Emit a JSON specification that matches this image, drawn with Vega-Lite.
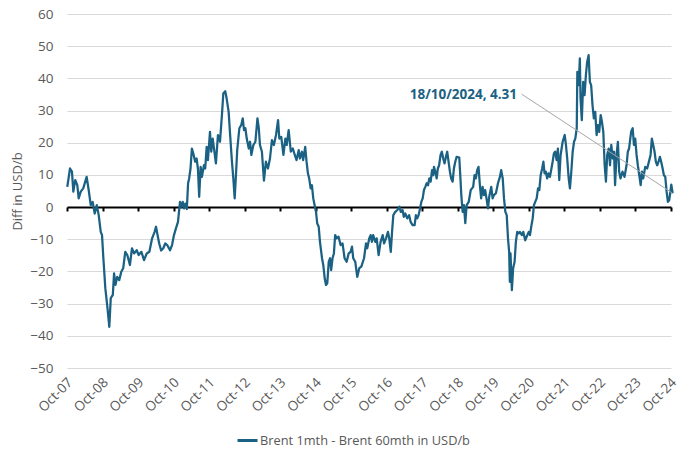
{
  "$schema": "https://vega.github.io/schema/vega-lite/v6.json",
  "width": 604,
  "height": 354,
  "autosize": {"type": "none"},
  "padding": {"left": 67, "top": 14, "right": 29, "bottom": 89},
  "background": "white",
  "config": {
    "view": {"stroke": null},
    "font": "Open Sans",
    "axis": {"labelColor": "#595959", "titleColor": "#595959", "labelFontSize": 13.5, "titleFontSize": 13, "titleFontWeight": "normal"},
    "legend": {"labelColor": "#595959", "labelFontSize": 12.8, "labelLimit": 0}
  },
  "encoding": {
    "x": {
      "field": "date", "type": "temporal",
      "scale": {"type": "utc", "domain": [{"year": 2007, "month": 10, "date": 1, "utc": true}, {"year": 2024, "month": 10, "date": 1, "utc": true}]},
      "axis": {
        "title": null, "format": "%b-%y", "labelAngle": -45, "labelAlign": "right", "labelBaseline": "middle",
        "values": [
          {"year": 2007, "month": 10, "date": 1, "utc": true}, {"year": 2008, "month": 10, "date": 1, "utc": true},
          {"year": 2009, "month": 10, "date": 1, "utc": true}, {"year": 2010, "month": 10, "date": 1, "utc": true},
          {"year": 2011, "month": 10, "date": 1, "utc": true}, {"year": 2012, "month": 10, "date": 1, "utc": true},
          {"year": 2013, "month": 10, "date": 1, "utc": true}, {"year": 2014, "month": 10, "date": 1, "utc": true},
          {"year": 2015, "month": 10, "date": 1, "utc": true}, {"year": 2016, "month": 10, "date": 1, "utc": true},
          {"year": 2017, "month": 10, "date": 1, "utc": true}, {"year": 2018, "month": 10, "date": 1, "utc": true},
          {"year": 2019, "month": 10, "date": 1, "utc": true}, {"year": 2020, "month": 10, "date": 1, "utc": true},
          {"year": 2021, "month": 10, "date": 1, "utc": true}, {"year": 2022, "month": 10, "date": 1, "utc": true},
          {"year": 2023, "month": 10, "date": 1, "utc": true}, {"year": 2024, "month": 10, "date": 1, "utc": true}
        ],
        "offset": -161, "domainColor": "black", "domainWidth": 2, "tickColor": "black", "tickWidth": 2, "tickSize": 4,
        "labelPadding": 169, "labelOffset": 3, "grid": false, "labelOverlap": false, "labelFlush": false
      }
    },
    "y": {
      "field": "value", "type": "quantitative",
      "scale": {"domain": [-50, 60], "nice": false},
      "axis": {
        "title": "Diff in USD/b", "values": [-50, -40, -30, -20, -10, 0, 10, 20, 30, 40, 50, 60],
        "grid": true, "gridColor": "#d9d9d9", "gridWidth": 1, "domain": false, "ticks": false, "tickSize": 0,
        "labelPadding": 14, "titlePadding": 5
      }
    }
  },
  "layer": [
    {
      "data": {"values": [
        {"date": "2007-10-04", "value": 6.3}, {"date": "2007-11-01", "value": 12.0}, {"date": "2007-11-21", "value": 11.0},
        {"date": "2007-12-05", "value": 4.8}, {"date": "2007-12-25", "value": 8.4}, {"date": "2008-01-15", "value": 6.8},
        {"date": "2008-01-29", "value": 2.7}, {"date": "2008-02-19", "value": 4.8}, {"date": "2008-03-16", "value": 5.8},
        {"date": "2008-04-20", "value": 9.4}, {"date": "2008-05-11", "value": 5.3}, {"date": "2008-06-01", "value": 0.6},
        {"date": "2008-06-21", "value": 1.6}, {"date": "2008-07-12", "value": -2.0}, {"date": "2008-08-02", "value": 0.6},
        {"date": "2008-08-22", "value": -2.5}, {"date": "2008-09-12", "value": -7.7}, {"date": "2008-09-25", "value": -8.7},
        {"date": "2008-10-09", "value": -15.9}, {"date": "2008-10-29", "value": -25.2}, {"date": "2008-11-19", "value": -31.0},
        {"date": "2008-12-09", "value": -37.2}, {"date": "2008-12-24", "value": -28.3}, {"date": "2009-01-14", "value": -27.3},
        {"date": "2009-01-27", "value": -20.6}, {"date": "2009-02-10", "value": -24.2}, {"date": "2009-02-28", "value": -21.7},
        {"date": "2009-03-21", "value": -22.7}, {"date": "2009-04-11", "value": -20.1}, {"date": "2009-05-01", "value": -19.0},
        {"date": "2009-05-22", "value": -13.9}, {"date": "2009-06-12", "value": -14.9}, {"date": "2009-07-09", "value": -18.0},
        {"date": "2009-07-30", "value": -12.8}, {"date": "2009-08-20", "value": -14.4}, {"date": "2009-09-17", "value": -13.4},
        {"date": "2009-10-07", "value": -14.9}, {"date": "2009-11-04", "value": -13.9}, {"date": "2009-12-01", "value": -16.5},
        {"date": "2009-12-29", "value": -14.4}, {"date": "2010-01-25", "value": -13.9}, {"date": "2010-02-22", "value": -9.7},
        {"date": "2010-03-20", "value": -7.7}, {"date": "2010-04-03", "value": -6.1}, {"date": "2010-04-16", "value": -8.2},
        {"date": "2010-05-06", "value": -11.3}, {"date": "2010-05-26", "value": -13.5}, {"date": "2010-06-17", "value": -12.8},
        {"date": "2010-07-07", "value": -11.3}, {"date": "2010-07-27", "value": -11.8}, {"date": "2010-08-25", "value": -13.4},
        {"date": "2010-09-15", "value": -11.8}, {"date": "2010-10-05", "value": -8.7}, {"date": "2010-10-25", "value": -6.6},
        {"date": "2010-11-15", "value": -4.6}, {"date": "2010-11-29", "value": -0.4}, {"date": "2010-12-06", "value": 1.6},
        {"date": "2010-12-19", "value": 0.1}, {"date": "2011-01-03", "value": 1.6}, {"date": "2011-01-16", "value": -0.4},
        {"date": "2011-01-30", "value": 1.1}, {"date": "2011-02-14", "value": -0.6}, {"date": "2011-02-27", "value": 7.4},
        {"date": "2011-03-10", "value": 8.9}, {"date": "2011-03-24", "value": 12.0}, {"date": "2011-04-07", "value": 18.2},
        {"date": "2011-04-21", "value": 16.7}, {"date": "2011-05-11", "value": 14.1}, {"date": "2011-05-25", "value": 15.1},
        {"date": "2011-06-08", "value": 12.0}, {"date": "2011-06-21", "value": 3.2}, {"date": "2011-07-06", "value": 12.5},
        {"date": "2011-07-19", "value": 9.4}, {"date": "2011-08-09", "value": 13.0}, {"date": "2011-08-22", "value": 12.0},
        {"date": "2011-09-06", "value": 18.7}, {"date": "2011-09-19", "value": 14.6}, {"date": "2011-10-10", "value": 23.4},
        {"date": "2011-10-23", "value": 17.2}, {"date": "2011-11-07", "value": 21.3}, {"date": "2011-11-27", "value": 16.7},
        {"date": "2011-12-10", "value": 13.6}, {"date": "2011-12-31", "value": 22.4}, {"date": "2012-01-21", "value": 20.3},
        {"date": "2012-02-11", "value": 29.1}, {"date": "2012-02-24", "value": 35.3}, {"date": "2012-03-15", "value": 36.0},
        {"date": "2012-03-29", "value": 33.8}, {"date": "2012-04-19", "value": 29.6}, {"date": "2012-05-02", "value": 23.4},
        {"date": "2012-05-23", "value": 14.1}, {"date": "2012-06-06", "value": 8.9}, {"date": "2012-06-20", "value": 2.7},
        {"date": "2012-07-03", "value": 9.9}, {"date": "2012-07-16", "value": 17.7}, {"date": "2012-08-07", "value": 24.5},
        {"date": "2012-08-27", "value": 25.5}, {"date": "2012-09-11", "value": 27.6}, {"date": "2012-09-24", "value": 23.9},
        {"date": "2012-10-08", "value": 24.5}, {"date": "2012-10-22", "value": 21.3}, {"date": "2012-11-12", "value": 18.2},
        {"date": "2012-11-25", "value": 20.3}, {"date": "2012-12-08", "value": 16.2}, {"date": "2012-12-29", "value": 19.3},
        {"date": "2013-01-19", "value": 20.3}, {"date": "2013-02-09", "value": 27.6}, {"date": "2013-02-23", "value": 24.5},
        {"date": "2013-03-07", "value": 19.3}, {"date": "2013-03-27", "value": 17.2}, {"date": "2013-04-17", "value": 8.2},
        {"date": "2013-05-07", "value": 14.1}, {"date": "2013-05-28", "value": 12.0}, {"date": "2013-06-18", "value": 15.1},
        {"date": "2013-07-08", "value": 20.8}, {"date": "2013-07-28", "value": 19.3}, {"date": "2013-08-19", "value": 22.4},
        {"date": "2013-09-09", "value": 27.0}, {"date": "2013-09-22", "value": 21.3}, {"date": "2013-10-12", "value": 21.8},
        {"date": "2013-11-03", "value": 16.2}, {"date": "2013-11-23", "value": 21.3}, {"date": "2013-12-07", "value": 19.3},
        {"date": "2013-12-27", "value": 23.9}, {"date": "2014-01-18", "value": 17.2}, {"date": "2014-02-08", "value": 18.2},
        {"date": "2014-02-28", "value": 16.2}, {"date": "2014-03-18", "value": 14.6}, {"date": "2014-04-09", "value": 17.7},
        {"date": "2014-04-22", "value": 15.1}, {"date": "2014-05-12", "value": 17.2}, {"date": "2014-05-25", "value": 14.6},
        {"date": "2014-06-15", "value": 18.7}, {"date": "2014-06-29", "value": 14.1}, {"date": "2014-07-13", "value": 10.5},
        {"date": "2014-07-26", "value": 8.9}, {"date": "2014-08-10", "value": 5.8}, {"date": "2014-08-23", "value": 6.8},
        {"date": "2014-09-06", "value": 2.7}, {"date": "2014-09-20", "value": 0.6}, {"date": "2014-10-04", "value": -1.5},
        {"date": "2014-10-17", "value": -5.1}, {"date": "2014-11-01", "value": -6.1}, {"date": "2014-11-14", "value": -10.8},
        {"date": "2014-12-05", "value": -15.9}, {"date": "2014-12-18", "value": -18.0}, {"date": "2015-01-02", "value": -22.2},
        {"date": "2015-01-15", "value": -24.2}, {"date": "2015-01-28", "value": -23.7}, {"date": "2015-02-12", "value": -17.0},
        {"date": "2015-02-25", "value": -15.9}, {"date": "2015-03-09", "value": -19.6}, {"date": "2015-03-23", "value": -15.9},
        {"date": "2015-04-06", "value": -14.4}, {"date": "2015-04-19", "value": -8.7}, {"date": "2015-05-04", "value": -9.7},
        {"date": "2015-05-24", "value": -9.2}, {"date": "2015-06-14", "value": -11.8}, {"date": "2015-07-04", "value": -11.3},
        {"date": "2015-07-25", "value": -15.9}, {"date": "2015-08-15", "value": -17.0}, {"date": "2015-09-05", "value": -14.4},
        {"date": "2015-09-25", "value": -13.9}, {"date": "2015-10-09", "value": -12.3}, {"date": "2015-10-22", "value": -15.9},
        {"date": "2015-11-12", "value": -17.0}, {"date": "2015-12-02", "value": -21.7}, {"date": "2015-12-23", "value": -19.0},
        {"date": "2016-01-13", "value": -18.5}, {"date": "2016-02-10", "value": -15.9}, {"date": "2016-03-01", "value": -11.3},
        {"date": "2016-03-14", "value": -12.8}, {"date": "2016-04-04", "value": -9.7}, {"date": "2016-04-18", "value": -8.7},
        {"date": "2016-05-01", "value": -10.8}, {"date": "2016-05-14", "value": -8.7}, {"date": "2016-06-05", "value": -10.8},
        {"date": "2016-06-19", "value": -9.7}, {"date": "2016-07-09", "value": -14.9}, {"date": "2016-07-29", "value": -10.8},
        {"date": "2016-08-20", "value": -8.7}, {"date": "2016-09-03", "value": -11.3}, {"date": "2016-09-23", "value": -9.7},
        {"date": "2016-10-13", "value": -7.7}, {"date": "2016-10-26", "value": -9.7}, {"date": "2016-11-11", "value": -13.9},
        {"date": "2016-11-24", "value": -7.7}, {"date": "2016-12-07", "value": -2.5}, {"date": "2016-12-27", "value": -1.5},
        {"date": "2017-01-18", "value": -0.9}, {"date": "2017-02-08", "value": 0.1}, {"date": "2017-02-22", "value": -1.5},
        {"date": "2017-03-12", "value": -0.9}, {"date": "2017-03-25", "value": -3.0}, {"date": "2017-04-09", "value": -2.0},
        {"date": "2017-04-29", "value": -3.5}, {"date": "2017-05-19", "value": -2.5}, {"date": "2017-06-03", "value": -4.6},
        {"date": "2017-06-23", "value": -5.6}, {"date": "2017-07-14", "value": -5.6}, {"date": "2017-07-27", "value": -2.5},
        {"date": "2017-08-10", "value": -3.5}, {"date": "2017-08-24", "value": -2.5}, {"date": "2017-09-08", "value": -0.4},
        {"date": "2017-09-21", "value": 1.6}, {"date": "2017-10-05", "value": 2.7}, {"date": "2017-10-18", "value": 5.3},
        {"date": "2017-11-01", "value": 6.3}, {"date": "2017-11-15", "value": 7.4}, {"date": "2017-11-29", "value": 6.8},
        {"date": "2017-12-12", "value": 8.9}, {"date": "2017-12-26", "value": 7.9}, {"date": "2018-01-09", "value": 11.5},
        {"date": "2018-01-22", "value": 9.9}, {"date": "2018-01-29", "value": 12.5}, {"date": "2018-02-12", "value": 11.0},
        {"date": "2018-02-26", "value": 8.9}, {"date": "2018-03-10", "value": 12.0}, {"date": "2018-03-23", "value": 13.0},
        {"date": "2018-04-07", "value": 16.2}, {"date": "2018-04-20", "value": 17.2}, {"date": "2018-05-04", "value": 15.1},
        {"date": "2018-05-18", "value": 13.6}, {"date": "2018-06-01", "value": 15.6}, {"date": "2018-06-14", "value": 17.2},
        {"date": "2018-06-28", "value": 14.1}, {"date": "2018-07-12", "value": 11.0}, {"date": "2018-07-25", "value": 8.9},
        {"date": "2018-08-09", "value": 7.9}, {"date": "2018-08-22", "value": 12.0}, {"date": "2018-09-05", "value": 14.1},
        {"date": "2018-09-19", "value": 15.6}, {"date": "2018-10-16", "value": 15.4}, {"date": "2018-10-28", "value": 9.0},
        {"date": "2018-11-06", "value": 3.7}, {"date": "2018-11-20", "value": -1.5}, {"date": "2018-12-03", "value": 0.6},
        {"date": "2018-12-17", "value": -5.0}, {"date": "2018-12-31", "value": 0.6}, {"date": "2019-01-21", "value": 1.6},
        {"date": "2019-02-11", "value": 5.3}, {"date": "2019-02-24", "value": 5.8}, {"date": "2019-03-08", "value": 6.3},
        {"date": "2019-03-22", "value": 9.9}, {"date": "2019-04-05", "value": 8.9}, {"date": "2019-04-18", "value": 11.5},
        {"date": "2019-05-02", "value": 12.5}, {"date": "2019-05-16", "value": 6.8}, {"date": "2019-05-29", "value": 2.7},
        {"date": "2019-06-13", "value": 6.3}, {"date": "2019-06-26", "value": 3.7}, {"date": "2019-07-09", "value": 5.3},
        {"date": "2019-07-23", "value": 2.7}, {"date": "2019-08-07", "value": -0.4}, {"date": "2019-08-20", "value": 3.2},
        {"date": "2019-09-10", "value": 6.3}, {"date": "2019-09-24", "value": 2.7}, {"date": "2019-10-07", "value": 3.7},
        {"date": "2019-10-28", "value": 4.3}, {"date": "2019-11-18", "value": 7.4}, {"date": "2019-12-08", "value": 9.4},
        {"date": "2019-12-21", "value": 11.5}, {"date": "2020-01-06", "value": 8.9}, {"date": "2020-01-19", "value": 2.7},
        {"date": "2020-02-02", "value": -1.5}, {"date": "2020-02-16", "value": -2.5}, {"date": "2020-02-29", "value": -9.7},
        {"date": "2020-03-12", "value": -13.9}, {"date": "2020-03-19", "value": -23.2}, {"date": "2020-03-26", "value": -14.4},
        {"date": "2020-04-09", "value": -25.8}, {"date": "2020-04-22", "value": -19.0}, {"date": "2020-05-07", "value": -17.0},
        {"date": "2020-05-20", "value": -10.8}, {"date": "2020-06-03", "value": -7.7}, {"date": "2020-06-17", "value": -8.2},
        {"date": "2020-06-30", "value": -7.7}, {"date": "2020-07-21", "value": -8.7}, {"date": "2020-08-04", "value": -7.7},
        {"date": "2020-08-24", "value": -10.3}, {"date": "2020-09-08", "value": -9.2}, {"date": "2020-09-29", "value": -7.7},
        {"date": "2020-10-12", "value": -8.7}, {"date": "2020-10-25", "value": -6.1}, {"date": "2020-11-09", "value": -3.5},
        {"date": "2020-11-22", "value": 0.6}, {"date": "2020-12-05", "value": 1.6}, {"date": "2020-12-20", "value": 2.7},
        {"date": "2021-01-03", "value": 5.8}, {"date": "2021-01-16", "value": 5.3}, {"date": "2021-01-30", "value": 9.9},
        {"date": "2021-02-14", "value": 12.0}, {"date": "2021-02-27", "value": 14.1}, {"date": "2021-03-11", "value": 10.5},
        {"date": "2021-03-24", "value": 11.0}, {"date": "2021-04-07", "value": 8.9}, {"date": "2021-04-21", "value": 10.5},
        {"date": "2021-05-05", "value": 9.4}, {"date": "2021-05-18", "value": 11.5}, {"date": "2021-06-02", "value": 14.1},
        {"date": "2021-06-15", "value": 16.7}, {"date": "2021-06-28", "value": 17.2}, {"date": "2021-07-13", "value": 14.6},
        {"date": "2021-07-26", "value": 18.2}, {"date": "2021-08-09", "value": 8.4}, {"date": "2021-08-23", "value": 16.2},
        {"date": "2021-09-13", "value": 20.3}, {"date": "2021-10-04", "value": 22.4}, {"date": "2021-10-17", "value": 19.3},
        {"date": "2021-10-30", "value": 15.1}, {"date": "2021-11-14", "value": 8.9}, {"date": "2021-11-27", "value": 5.8},
        {"date": "2021-12-11", "value": 11.0}, {"date": "2021-12-25", "value": 17.2}, {"date": "2022-01-08", "value": 20.3},
        {"date": "2022-01-21", "value": 21.3}, {"date": "2022-02-05", "value": 24.5}, {"date": "2022-02-11", "value": 42.0},
        {"date": "2022-02-25", "value": 37.9}, {"date": "2022-03-09", "value": 46.2}, {"date": "2022-03-16", "value": 33.8},
        {"date": "2022-03-29", "value": 27.0}, {"date": "2022-04-12", "value": 38.9}, {"date": "2022-04-26", "value": 34.8},
        {"date": "2022-05-10", "value": 41.0}, {"date": "2022-05-23", "value": 45.1}, {"date": "2022-06-07", "value": 47.2},
        {"date": "2022-06-20", "value": 38.9}, {"date": "2022-07-03", "value": 37.9}, {"date": "2022-07-17", "value": 31.7},
        {"date": "2022-07-31", "value": 27.6}, {"date": "2022-08-14", "value": 29.6}, {"date": "2022-08-28", "value": 22.4},
        {"date": "2022-09-11", "value": 25.5}, {"date": "2022-09-24", "value": 23.4}, {"date": "2022-10-09", "value": 28.6},
        {"date": "2022-10-22", "value": 26.5}, {"date": "2022-11-05", "value": 23.4}, {"date": "2022-11-19", "value": 13.0},
        {"date": "2022-12-02", "value": 7.9}, {"date": "2022-12-15", "value": 16.2}, {"date": "2022-12-30", "value": 18.2},
        {"date": "2023-01-13", "value": 13.0}, {"date": "2023-01-26", "value": 19.3}, {"date": "2023-02-10", "value": 15.1},
        {"date": "2023-02-23", "value": 17.2}, {"date": "2023-03-06", "value": 6.8}, {"date": "2023-03-21", "value": 16.2},
        {"date": "2023-04-04", "value": 20.3}, {"date": "2023-04-17", "value": 11.0}, {"date": "2023-05-01", "value": 8.9},
        {"date": "2023-05-21", "value": 11.0}, {"date": "2023-06-11", "value": 9.4}, {"date": "2023-07-02", "value": 13.0},
        {"date": "2023-07-15", "value": 17.2}, {"date": "2023-07-28", "value": 18.2}, {"date": "2023-08-18", "value": 23.4},
        {"date": "2023-09-03", "value": 24.5}, {"date": "2023-09-16", "value": 19.3}, {"date": "2023-09-29", "value": 21.3},
        {"date": "2023-10-13", "value": 16.2}, {"date": "2023-10-26", "value": 13.0}, {"date": "2023-11-10", "value": 9.9},
        {"date": "2023-11-24", "value": 6.8}, {"date": "2023-12-07", "value": 11.0}, {"date": "2023-12-20", "value": 8.9},
        {"date": "2024-01-10", "value": 12.5}, {"date": "2024-01-30", "value": 12.0}, {"date": "2024-02-21", "value": 14.6},
        {"date": "2024-03-05", "value": 16.2}, {"date": "2024-03-18", "value": 21.3}, {"date": "2024-04-01", "value": 19.3},
        {"date": "2024-04-15", "value": 17.2}, {"date": "2024-04-28", "value": 14.1}, {"date": "2024-05-12", "value": 13.0},
        {"date": "2024-05-26", "value": 14.1}, {"date": "2024-06-09", "value": 15.6}, {"date": "2024-06-22", "value": 14.1},
        {"date": "2024-07-07", "value": 12.0}, {"date": "2024-07-20", "value": 9.9}, {"date": "2024-08-03", "value": 9.4},
        {"date": "2024-08-17", "value": 4.8}, {"date": "2024-08-30", "value": 1.6}, {"date": "2024-09-13", "value": 2.2},
        {"date": "2024-10-04", "value": 7.0}, {"date": "2024-10-18", "value": 4.31}
      ]},
      "mark": {"type": "line", "strokeWidth": 2.25, "strokeJoin": "round"},
      "encoding": {
        "color": {
          "datum": "Brent 1mth - Brent 60mth in USD/b",
          "scale": {"range": ["#1a6183"]},
          "legend": {"title": null, "orient": "none", "legendX": 169, "legendY": 415, "symbolType": "stroke", "symbolStrokeWidth": 3, "symbolSize": 400, "labelOffset": 1, "labelLimit": 0}
        }
      }
    },
    {
      "data": {"values": [{"date": "2020-07-18", "value": 35.1, "date2": "2024-10-18", "value2": 4.31}]},
      "mark": {"type": "rule", "color": "#a6a6a6", "strokeWidth": 1},
      "encoding": {
        "x2": {"field": "date2"},
        "y2": {"field": "value2"}
      }
    },
    {
      "data": {"values": [{"date": "2020-06-01", "value": 34.8, "label": "18/10/2024, 4.31"}]},
      "mark": {"type": "text", "align": "right", "baseline": "middle", "fontWeight": "bold", "fontSize": 13.5, "color": "#1a6183"},
      "encoding": {
        "text": {"field": "label"}
      }
    }
  ]
}
